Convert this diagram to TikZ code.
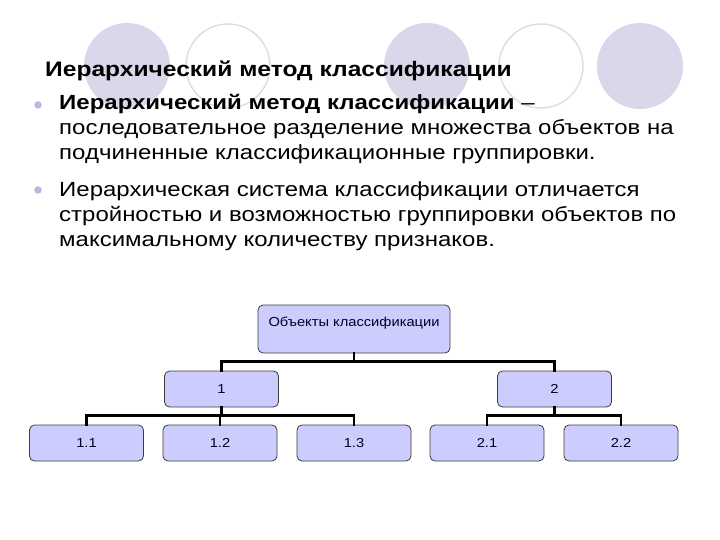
\documentclass[tikz,border=0pt]{standalone}
\usepackage{fontspec}
\setmainfont{Liberation Sans}
\newfontfamily\widefont{Liberation Sans}[FakeStretch=1.17]
\newfontfamily\boxfont{Liberation Sans}[FakeStretch=1.13]
\usepackage{xcolor}
\definecolor{discfill}{RGB}{216,216,234}
\definecolor{ringgray}{RGB}{220,220,228}
\definecolor{dotblue}{RGB}{184,184,226}
\definecolor{boxfill}{RGB}{204,204,255}
\definecolor{boxline}{RGB}{60,60,60}
\usetikzlibrary{positioning}

\tikzset{
  disc/.style={fill=discfill, draw=none},
  ring/.style={draw=ringgray, line width=1.4pt, fill=white},
  bulletdot/.style={circle, fill=dotblue, inner sep=0pt, minimum size=7.5pt},
  bodyline/.style={font=\widefont\fontsize{20.5}{25}\selectfont, anchor=base west, inner sep=0pt},
  classbox/.style={draw=boxline, fill=boxfill, rounded corners=5pt, line width=0.8pt,
    minimum width=114pt, minimum height=36pt, inner sep=0pt,
    font=\boxfont\fontsize{13}{15}\selectfont, text=black!85!blue},
  conn/.style={line width=2.6pt, line cap=rect}
}

\begin{document}
\begin{tikzpicture}[x=1pt, y=-1pt]
  \useasboundingbox (0,0) rectangle (720,540);
  % Background circles
  \fill[disc] (127,66) circle (43);
  \draw[ring] (228,66) circle (42);
  \fill[disc] (427,66) circle (43);
  \draw[ring] (541,66) circle (42);
  \fill[disc] (640,66) circle (43);

  % Title
  \node[font=\widefont\fontsize{21}{24}\bfseries, anchor=base west, inner sep=0pt] (title) at (45,76.5)
    {Иерархический метод классификации};

  % Bullet 1
  \node[bulletdot] (dot1) at (38,105) {};
  \node[bodyline] (l11) at (59,110) {\textbf{Иерархический метод классификации} –};
  \node[bodyline] (l12) at (59,135) {последовательное разделение множества объектов на};
  \node[bodyline] (l13) at (59,160) {подчиненные классификационные группировки.};
  % Bullet 2
  \node[bulletdot] (dot2) at (38,190) {};
  \node[bodyline] (l21) at (59,196.5) {Иерархическая система классификации отличается};
  \node[bodyline] (l22) at (59,221.5) {стройностью и возможностью группировки объектов по};
  \node[bodyline] (l23) at (59,246.5) {максимальному количеству признаков.};

  % Tree
  \node[classbox, minimum width=192pt, minimum height=48pt, text height=9pt, text depth=14pt]
    (root) at (354,329) {Объекты классификации};
  \node[classbox] (n1) at (221.5,389) {1};
  \node[classbox] (n2) at (554.5,389) {2};
  \node[classbox] (n11) at (86.5,443) {1.1};
  \node[classbox] (n12) at (220,443) {1.2};
  \node[classbox] (n13) at (354,443) {1.3};
  \node[classbox] (n21) at (487,443) {2.1};
  \node[classbox] (n22) at (621,443) {2.2};

  % Connectors
  \draw[conn] (root.south) -- ++(0,8) coordinate (bar0);
  \draw[conn] (bar0) -| (n1.north);
  \draw[conn] (bar0) -| (n2.north);
  \draw[conn] (n1.south) -- ++(0,8) coordinate (bar1);
  \draw[conn] (bar1) -| (n11.north);
  \draw[conn] (bar1) -| (n12.north);
  \draw[conn] (bar1) -| (n13.north);
  \draw[conn] (n2.south) -- ++(0,8) coordinate (bar2);
  \draw[conn] (bar2) -| (n21.north);
  \draw[conn] (bar2) -| (n22.north);
\end{tikzpicture}
\end{document}
